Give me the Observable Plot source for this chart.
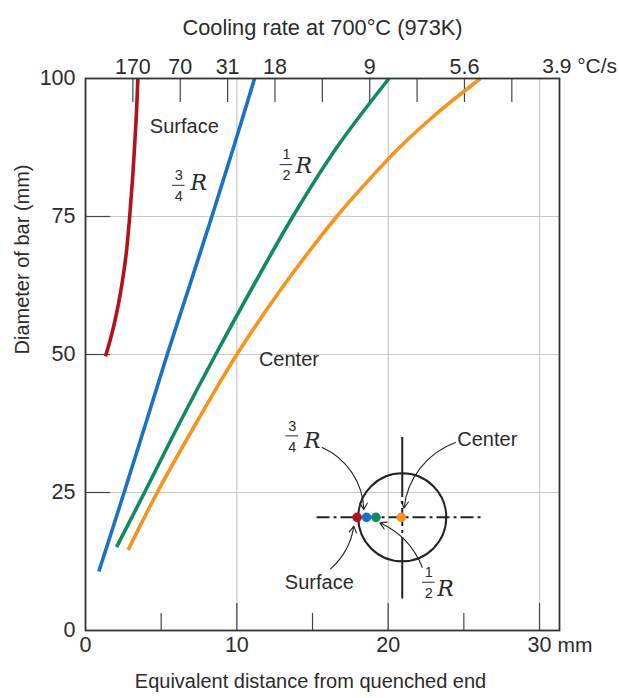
<!DOCTYPE html>
<html><head><meta charset="utf-8">
<script src="https://cdn.jsdelivr.net/npm/d3@7"></script>
<script src="https://cdn.jsdelivr.net/npm/@observablehq/plot@0.6"></script>
<style>body{margin:0;background:#fff}</style>
</head><body><div id="chart"></div>
<script>
// Curves: [equivalent distance (mm), bar diameter (mm)]
const surface = [[1.32,49.7],[1.62,52.5],[1.92,55.8],[2.2,59.5],[2.45,63.5],[2.7,68.5],[2.92,75],[3.1,81.5],[3.25,88],[3.37,94],[3.46,100]];
const threeQuarterR = [[0.88,10.7],[2.55,25],[3.98,37.5],[5.4,50],[6.88,62.5],[8.35,75],[9.78,87.5],[11.17,100]];
const halfR = [[2.05,15.1],[3.9,25],[6.2,37.5],[8.6,50],[11.1,62.5],[13.7,75],[16.6,87.5],[20.05,100]];
const centerCurve = [[2.82,14.6],[4.74,25],[7.3,37.5],[10.0,50],[13.1,62.5],[16.6,75],[18.6,81.25],[20.75,87.5],[23.25,93.75],[26.1,100]];

const seriesColors = ["#b3121d","#1a72c4","#108a5e","#f7941d"];

// Axes
const xTicks = [0,10,20,30];
const xMinorTicks = [5,15,25];
const yTicks = [0,25,50,75,100];
const yInnerTicks = [25,50,75];
const coolingTickPos = [3.13,6.26,9.39,12.52,15.65,18.78,21.91,25.04,28.17];
const coolingLabelPos = [3.13,6.26,9.39,12.52,18.78,25.04];
const coolingLabels = ["170","70","31","18","9","5.6"];
const lastCoolingPos = [31.3];
const lastCoolingLabel = ["3.9 °C/s"];

// Text labels
const wordLabels = [
  {text:"Surface", x:6.53, y:91.3},
  {text:"Center", x:13.44, y:49.1},
  {text:"Surface", x:15.45, y:8.74},
  {text:"Center", x:26.55, y:34.54}
];
const fractions = [
  {num:"3", den:"4", x:6.17, y:80.65, rx:7.49, ry:81.0},
  {num:"1", den:"2", x:13.28, y:84.4, rx:14.43, ry:84.1},
  {num:"3", den:"4", x:13.66, y:35.26, rx:14.98, ry:34.36},
  {num:"1", den:"2", x:22.69, y:8.74, rx:23.79, ry:7.54}
];

// Inset cross-section
const insetCenter = [{x:20.93, y:20.5}];
const insetDots = [
  {x:17.95, y:20.5, c:0},
  {x:18.57, y:20.5, c:1},
  {x:19.19, y:20.5, c:2},
  {x:20.87, y:20.5, c:3}
];
const insetHLine = [{x1:15.3, x2:26.4, y:20.5}];
const insetVLine = [{x:20.93, y1:34.96, y2:5.7}];
const arrows = [
  {x1:15.64, y1:33.15, x2:18.39, y2:21.9, bend:32},
  {x1:24.45, y1:34.05, x2:21.05, y2:22.2, bend:-32},
  {x1:16.19, y1:11.16, x2:17.73, y2:18.9, bend:-20},
  {x1:22.25, y1:11.45, x2:19.45, y2:19.5, bend:-22}
];

const ink = "#2b2b2b";
const fw = 474, fh = 552;

const line = (data, i) => Plot.line(data, {x: d=>d[0], y: d=>d[1], stroke: seriesColors[i], strokeWidth: 3.6, curve: "catmull-rom", strokeLinecap: "butt"});

const chart = Plot.plot({
  width: 619, height: 698,
  marginLeft: 85, marginRight: 60, marginTop: 78, marginBottom: 68,
  x: {domain: [0, 31.32], axis: null},
  y: {domain: [0, 100], axis: null},
  style: {fontFamily: "'Liberation Sans', Arial, sans-serif", fontSize: "20px", color: ink, background: "#fff"},
  marks: [
    // grid
    Plot.ruleX(xTicks.slice(1), {stroke: "#c9c9c9", strokeWidth: 1.2}),
    Plot.ruleY(yInnerTicks, {stroke: "#c9c9c9", strokeWidth: 1.2}),
    // ticks
    Plot.tickX(xMinorTicks, {x: d=>d, insetTop: fh - 17, stroke: "#444", strokeWidth: 1.2}),
    Plot.tickX(xTicks.slice(1), {x: d=>d, insetTop: fh - 27, stroke: "#444", strokeWidth: 1.2}),
    Plot.tickY(yInnerTicks, {y: d=>d, insetRight: fw - 25, stroke: "#444", strokeWidth: 1.2}),
    Plot.tickX(coolingTickPos, {x: d=>d, insetBottom: fh - 24, stroke: "#444", strokeWidth: 1.2}),
    // curves
    line(surface, 0), line(threeQuarterR, 1), line(halfR, 2), line(centerCurve, 3),
    // frame
    Plot.frame({stroke: "#333", strokeWidth: 1.8}),
    // tick labels
    Plot.text(xTicks, {x: d=>d, text: d=>String(d), frameAnchor: "bottom", dy: 21, fontSize: 21.5, fill: ink}),
    Plot.text(["mm"], {frameAnchor: "bottom-right", dx: 33, dy: 21, fontSize: 21, fill: ink}),
    Plot.text(yTicks, {y: d=>d, text: d=>String(d), frameAnchor: "left", dx: -10, textAnchor: "end", fontSize: 21.5, fill: ink}),
    Plot.text(coolingLabelPos, {x: d=>d, text: (d,i)=>coolingLabels[i], frameAnchor: "top", dy: -20, fontSize: 21.5, fill: ink}),
    Plot.text(lastCoolingPos, {x: d=>d, text: (d,i)=>lastCoolingLabel[i], frameAnchor: "top", dy: -20, dx: -17, textAnchor: "start", fontSize: 21, fill: ink}),
    // axis titles
    Plot.text(["Cooling rate at 700°C (973K)"], {frameAnchor: "top", dy: -59, fontSize: 21.8, fill: ink}),
    Plot.text(["Equivalent distance from quenched end"], {frameAnchor: "bottom", dy: 57, dx: -12, fill: ink}),
    Plot.text(["Diameter of bar (mm)"], {frameAnchor: "left", dx: -63, rotate: -90, fill: ink}),
    // curve labels
    Plot.text(wordLabels, {x: "x", y: "y", text: "text", fill: ink}),
    Plot.text(fractions, {x: "x", y: "y", text: "num", dy: -10, fontSize: 14.5, fill: ink}),
    Plot.text(fractions, {x: "x", y: "y", text: "den", dy: 11, fontSize: 14.5, fill: ink}),
    Plot.ruleY(fractions, {y: "y", x1: d=>d.x - 0.42, x2: d=>d.x + 0.42, stroke: ink, strokeWidth: 1}),
    Plot.text(fractions, {x: "rx", y: "ry", text: ()=>"R", fontFamily: "'DejaVu Serif', serif", fontStyle: "italic", fontSize: 22, fill: ink}),
    // inset
    Plot.dot(insetCenter, {x: "x", y: "y", r: 44, stroke: "#222", strokeWidth: 2, fill: "none"}),
    Plot.ruleY(insetHLine, {y: "y", x1: "x1", x2: "x2", stroke: "#222", strokeWidth: 2, strokeDasharray: "13,4,3,4"}),
    Plot.ruleX(insetVLine, {x: "x", y1: "y1", y2: "y2", stroke: "#222", strokeWidth: 2, strokeDasharray: "60,4,3,4,18,4,3,4,100"}),
    ...arrows.map(a => Plot.arrow([a], {x1: "x1", y1: "y1", x2: "x2", y2: "y2", bend: a.bend, stroke: "#222", strokeWidth: 1.1, headLength: 10})),
    Plot.dot(insetDots, {x: "x", y: "y", r: 4.8, fill: d=>seriesColors[d.c], stroke: "none"})
  ]
});
document.getElementById("chart").append(chart);
</script>
</body></html>
